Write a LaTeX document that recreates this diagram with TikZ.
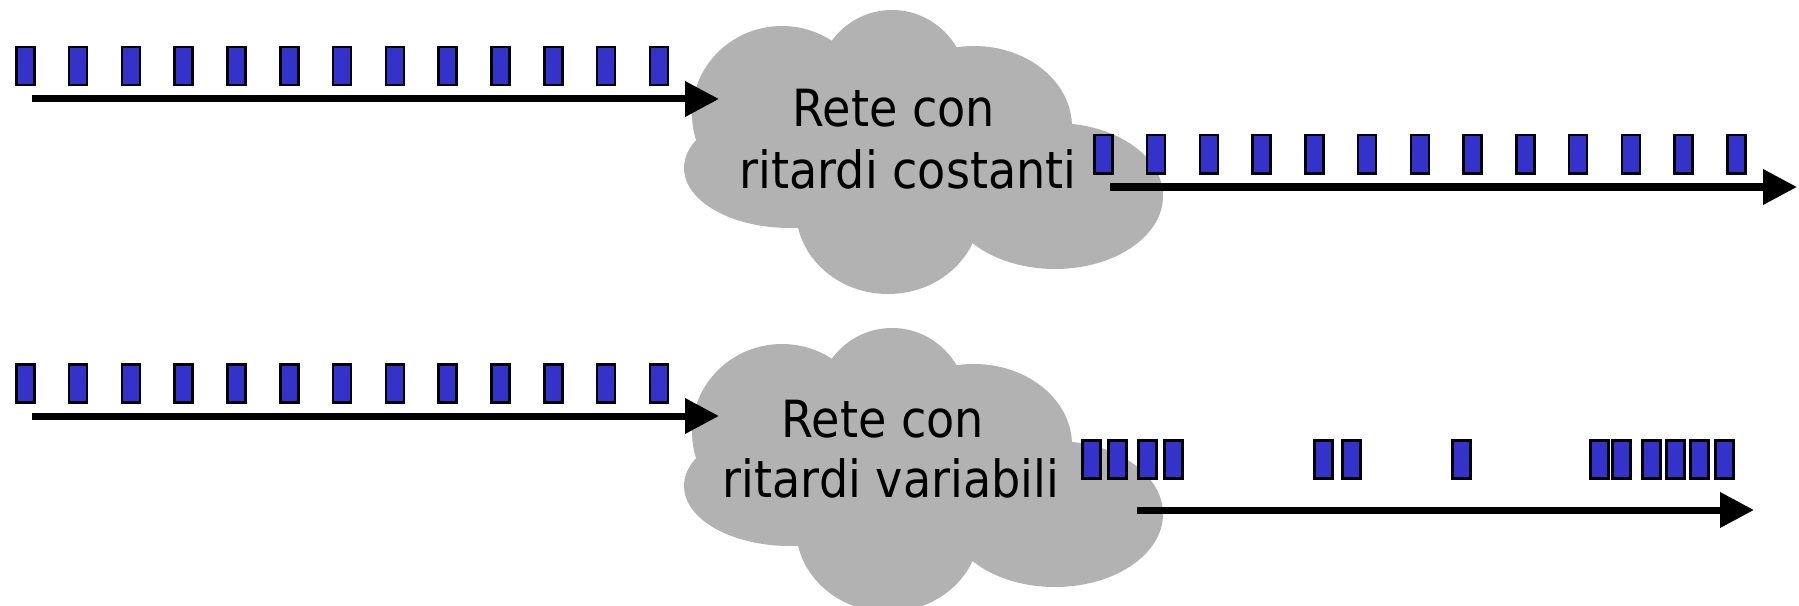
\documentclass[tikz,border=0pt]{standalone}
\usepackage{fontspec}
\setmainfont{DejaVu Sans}[FakeStretch=0.9]
\usetikzlibrary{arrows.meta}
\definecolor{pktblue}{RGB}{51,51,204}
\definecolor{cloudgray}{RGB}{178,178,178}
\begin{document}
\begin{tikzpicture}[x=0.4pt,y=-0.4pt,
  packet/.style={draw=black, line width=1pt, fill=pktblue, minimum width=7.2pt, minimum height=15.2pt, inner sep=0pt, anchor=north west},
  flow/.style={line width=2.8pt, -{Triangle[length=13.6pt,width=13.6pt]}},
  lbl/.style={font=\fontsize{20.5}{24}\selectfont, text=black, anchor=base, inner sep=0pt},
  cloudfill/.style={fill=cloudgray}]
\useasboundingbox (0,0) rectangle (1799,606);

% clouds
\foreach \dy in {0,318}{
  \begin{scope}[shift={(0,\dy)}]
    \fill[cloudfill] (782,114) ellipse [x radius=90, y radius=88];
    \fill[cloudfill] (892,86) ellipse [x radius=75, y radius=76];
    \fill[cloudfill] (974,127) ellipse [x radius=98, y radius=81];
    \fill[cloudfill] (1055,196) ellipse [x radius=108, y radius=73];
    \fill[cloudfill] (888,210) ellipse [x radius=92, y radius=84];
    \fill[cloudfill] (790,168) ellipse [x radius=106, y radius=60];
    \fill[cloudfill] (911,161) ellipse [x radius=173, y radius=81];
  \end{scope}
}

% labels
\node[lbl] (t1) at (894,127) {Rete con};
\node[lbl] (t2) at (908,188) {ritardi costanti};
\node[lbl] (b1) at (883,437) {Rete con};
\node[lbl] (b2) at (891,497) {ritardi variabili};

% constant-delay packets and input packets
\foreach \i in {0,...,12}{
  \node[packet] (pa\i) at ({15+52.8*\i},46) {};
  \node[packet] (pb\i) at ({1093+52.75*\i},134) {};
  \node[packet] (pc\i) at ({15+52.8*\i},363) {};
}
% output packets with variable delays
\foreach \x [count=\i] in {1081,1107,1137,1163}{ \node[packet] (q\i) at (\x,439) {}; }
\foreach \x [count=\i] in {1313,1341}{ \node[packet] (r\i) at (\x,439) {}; }
\node[packet] (s1) at (1451,439) {};
\foreach \x [count=\i] in {1589,1611,1641,1665,1689,1714}{ \node[packet] (u\i) at (\x,439) {}; }

% arrows
\coordinate (a1s) at (32,99);    \coordinate (a1e) at (719,99);
\coordinate (a2s) at (1110,187); \coordinate (a2e) at (1797,187);
\coordinate (a3s) at (32,416);   \coordinate (a3e) at (719,416);
\coordinate (a4s) at (1137,510); \coordinate (a4e) at (1754,510);
\draw[flow] (a1s) -- (a1e);
\draw[flow] (a2s) -- (a2e);
\draw[flow] (a3s) -- (a3e);
\draw[flow] (a4s) -- (a4e);
\end{tikzpicture}
\end{document}
